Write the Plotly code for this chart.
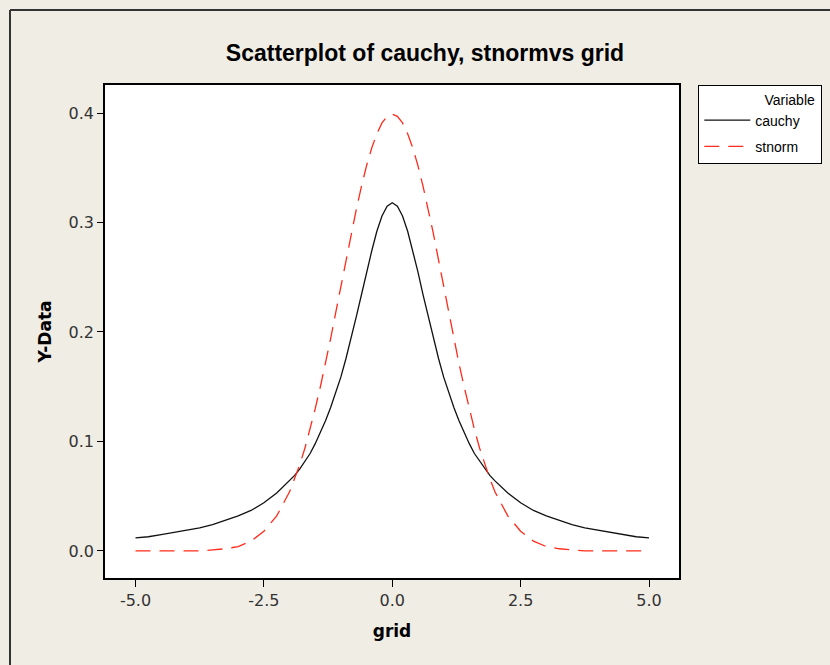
import plotly.graph_objects as go

grid = [-5.0, -4.75, -4.5, -4.25, -4.0, -3.75, -3.5, -3.25, -3.0, -2.75, -2.5, -2.25,
        -2.0, -1.9, -1.8, -1.7, -1.6, -1.5, -1.4, -1.3, -1.2, -1.1,
        -1.0, -0.9, -0.8, -0.7, -0.6, -0.5, -0.4, -0.3, -0.2, -0.1,
        0.0, 0.1, 0.2, 0.3, 0.4, 0.5, 0.6, 0.7, 0.8, 0.9,
        1.0, 1.1, 1.2, 1.3, 1.4, 1.5, 1.6, 1.7, 1.8, 1.9,
        2.0, 2.25, 2.5, 2.75, 3.0, 3.25, 3.5, 3.75, 4.0, 4.25, 4.5, 4.75, 5.0]

cauchy = [0.012, 0.013, 0.015, 0.017, 0.019, 0.021, 0.024, 0.028, 0.032, 0.037, 0.044, 0.053,
          0.064, 0.069, 0.075, 0.082, 0.089, 0.098, 0.108, 0.119, 0.131, 0.144,
          0.159, 0.176, 0.194, 0.214, 0.234, 0.255, 0.274, 0.292, 0.306, 0.315,
          0.318, 0.315, 0.306, 0.292, 0.274, 0.255, 0.234, 0.214, 0.194, 0.176,
          0.159, 0.144, 0.131, 0.119, 0.108, 0.098, 0.089, 0.082, 0.075, 0.069,
          0.064, 0.053, 0.044, 0.037, 0.032, 0.028, 0.024, 0.021, 0.019, 0.017, 0.015, 0.013, 0.012]

stnorm = [0.000, 0.000, 0.000, 0.000, 0.000, 0.000, 0.001, 0.002, 0.004, 0.009, 0.018, 0.032,
          0.054, 0.066, 0.079, 0.094, 0.111, 0.130, 0.150, 0.171, 0.194, 0.218,
          0.242, 0.266, 0.290, 0.312, 0.333, 0.352, 0.368, 0.381, 0.391, 0.397,
          0.399, 0.397, 0.391, 0.381, 0.368, 0.352, 0.333, 0.312, 0.290, 0.266,
          0.242, 0.218, 0.194, 0.171, 0.150, 0.130, 0.111, 0.094, 0.079, 0.066,
          0.054, 0.032, 0.018, 0.009, 0.004, 0.002, 0.001, 0.000, 0.000, 0.000, 0.000, 0.000, 0.000]

x_ticks = [-5.0, -2.5, 0.0, 2.5, 5.0]
x_tick_text = ["-5.0", "-2.5", "0.0", "2.5", "5.0"]
y_ticks = [0.0, 0.1, 0.2, 0.3, 0.4]
y_tick_text = ["0.0", "0.1", "0.2", "0.3", "0.4"]

BG = "#f0ede5"
TICKFONT = dict(family="DejaVu Sans", size=16, color="#333333")
AXTITLE = dict(family="DejaVu Sans", size=17, color="#000000")
LEGFONT = dict(family="Liberation Sans", size=14, color="#000000")

fig = go.Figure()
fig.add_trace(go.Scatter(x=grid, y=cauchy, mode="lines", name="cauchy\u00a0\u00a0\u00a0\u00a0",
                         legendgroup="a",
                         line=dict(color="#111111", width=1.3)))
fig.add_trace(go.Scatter(x=grid, y=stnorm, mode="lines", name="stnorm",
                         legendgroup="b",
                         line=dict(color="#ff2a1a", width=1.3, dash="15px,9px")))

fig.update_layout(
    width=830, height=665,
    paper_bgcolor=BG, plot_bgcolor="#ffffff",
    margin=dict(l=105, r=151, t=85, b=87, autoexpand=False),
    title=dict(text="<b>Scatterplot of cauchy, stnormvs grid</b>",
               font=dict(family="Liberation Sans", size=23, color="#000000"),
               x=425 / 830, xanchor="center", xref="container",
               y=1 - 53 / 665, yanchor="middle", yref="container"),
    xaxis=dict(range=[-5.594, 5.584], tickvals=x_ticks, ticktext=x_tick_text,
               ticks="outside", ticklen=7, tickwidth=1.3, tickcolor="#000",
               showline=True, linecolor="#000", linewidth=1.5, mirror=True,
               showgrid=False, zeroline=False, tickfont=TICKFONT,
               title=dict(text="<b>grid</b>", font=AXTITLE, standoff=16)),
    yaxis=dict(range=[-0.0247, 0.4256], tickvals=y_ticks, ticktext=y_tick_text,
               ticks="outside", ticklen=6, tickwidth=1.3, tickcolor="#000",
               showline=True, linecolor="#000", linewidth=1.5, mirror=True,
               showgrid=False, zeroline=False, tickfont=TICKFONT,
               title=dict(text="<b>Y-Data</b>", font=AXTITLE, standoff=13)),
    legend=dict(x=(698 - 105) / 574, y=1.0, xanchor="left", yanchor="top",
                bgcolor="#ffffff", bordercolor="#000000", borderwidth=1.3,
                font=LEGFONT, tracegroupgap=5,
                title=dict(text="Variable\u00a0", side="top right", font=LEGFONT),
                itemwidth=46),
    showlegend=True,
)

# outer window frame (left and top edges)
fig.add_shape(type="line", xref="paper", yref="paper",
              x0=(10 - 105) / 574, x1=(10 - 105) / 574,
              y0=-(675 - 578) / 493, y1=1 + (85 - 10) / 493,
              line=dict(color="#333333", width=2))
fig.add_shape(type="line", xref="paper", yref="paper",
              x0=(10 - 105) / 574, x1=(835 - 105) / 574,
              y0=1 + (85 - 10) / 493, y1=1 + (85 - 10) / 493,
              line=dict(color="#333333", width=2))

fig.write_html("out.html", config={"displayModeBar": False},
               post_script="document.body.style.margin='0';")
